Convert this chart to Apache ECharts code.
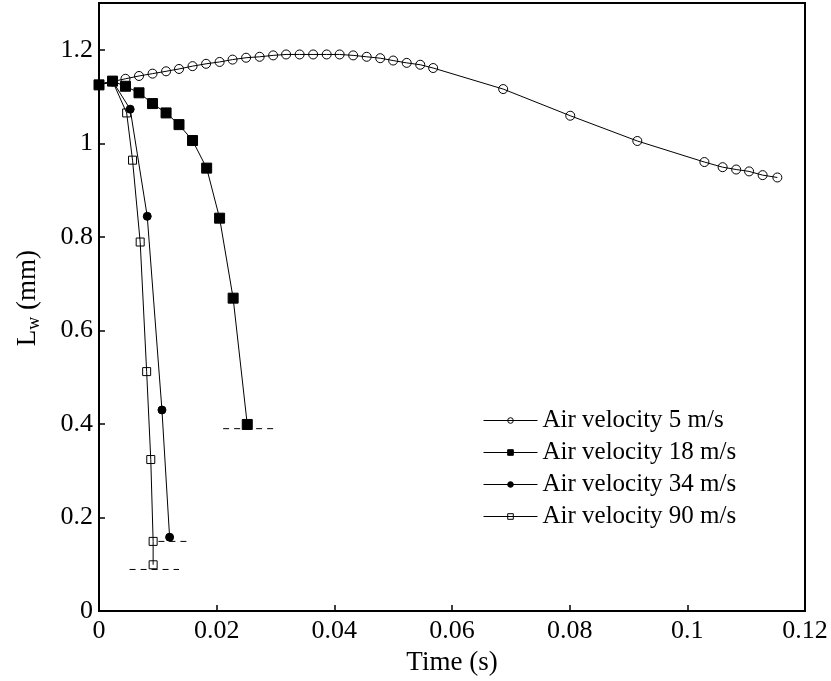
<!DOCTYPE html>
<html>
<head>
<meta charset="utf-8">
<script src="https://cdn.jsdelivr.net/npm/echarts@6/dist/echarts.min.js"></script>
<style>
  html, body { margin: 0; padding: 0; background: #fff; }
  #chart { width: 831px; height: 681px; }
</style>
</head>
<body>
<div id="chart"></div>
<script>
// Droplet length L_w over time for four air velocities
const seriesNames = ['Air velocity 5 m/s', 'Air velocity 18 m/s', 'Air velocity 34 m/s', 'Air velocity 90 m/s'];

const time5 = [0, 0.0023, 0.0045, 0.0068, 0.0091, 0.0114, 0.0136, 0.0159, 0.0182, 0.0205, 0.0227, 0.0250, 0.0273,
  0.0296, 0.0318, 0.0341, 0.0364, 0.0387, 0.0409, 0.0432, 0.0455, 0.0478, 0.0500, 0.0523, 0.0546, 0.0568,
  0.0687, 0.0801, 0.0915, 0.1029, 0.1060, 0.1083, 0.1105, 0.1128, 0.1153];
const lw5 = [1.125, 1.132, 1.138, 1.144, 1.149, 1.154, 1.159, 1.165, 1.170, 1.174, 1.179, 1.183, 1.185,
  1.188, 1.190, 1.190, 1.190, 1.190, 1.190, 1.188, 1.185, 1.182, 1.177, 1.172, 1.168, 1.161,
  1.116, 1.059, 1.005, 0.960, 0.949, 0.944, 0.940, 0.932, 0.927];

const time18 = [0, 0.0023, 0.0045, 0.0068, 0.0091, 0.0114, 0.0136, 0.0159, 0.0183, 0.0205, 0.0228, 0.0252];
const lw18 = [1.125, 1.133, 1.122, 1.108, 1.085, 1.065, 1.040, 1.006, 0.947, 0.840, 0.669, 0.399];

const time34 = [0, 0.0023, 0.0053, 0.0082, 0.0107, 0.0120];
const lw34 = [1.125, 1.133, 1.073, 0.844, 0.430, 0.158];

const time90 = [0, 0.0023, 0.0047, 0.0057, 0.0070, 0.0081, 0.0088, 0.0092, 0.0092];
const lw90 = [1.125, 1.133, 1.065, 0.964, 0.789, 0.512, 0.324, 0.149, 0.099];

// Dashed end-level guides: [startTime, endTime] and level
const guideTimes = [[0.0211, 0.0296], [0.0101, 0.0152], [0.0052, 0.0136]];
const guideLevels = [0.39, 0.149, 0.089];

const FONT = '"Liberation Serif", "Times New Roman", serif';

function pairs(xs, ys) {
  return xs.map((x, i) => [x, ys[i]]);
}

const HOLLOW = 'rgba(255,255,255,0)';
const markerStyles = [
  { symbol: 'circle', size: 9, fill: HOLLOW },
  { symbol: 'rect', size: 10, fill: '#000' },
  { symbol: 'circle', size: 8, fill: '#000' },
  { symbol: 'rect', size: 8, fill: HOLLOW }
];
const curves = [pairs(time5, lw5), pairs(time18, lw18), pairs(time34, lw34), pairs(time90, lw90)];

const series = curves.map((data, i) => ({
  name: seriesNames[i],
  type: 'line',
  data: data,
  symbol: markerStyles[i].symbol,
  symbolSize: markerStyles[i].size,
  showAllSymbol: true,
  lineStyle: { color: '#000', width: 1 },
  itemStyle: { color: markerStyles[i].fill, borderColor: '#000', borderWidth: 1 },
  emphasis: { disabled: true },
  z: 3 + i
}));

guideTimes.forEach((span, i) => {
  series.push({
    type: 'line',
    data: [[span[0], guideLevels[i]], [span[1], guideLevels[i]]],
    symbol: 'none',
    lineStyle: { color: '#000', width: 1, type: [6, 5] },
    emphasis: { disabled: true },
    z: 2
  });
});

const chart = echarts.init(document.getElementById('chart'));
chart.setOption({
  animation: false,
  backgroundColor: '#fff',
  grid: {
    left: 99, right: 26, top: 3, bottom: 68,
    show: true, borderColor: '#000', borderWidth: 2
  },
  legend: {
    data: seriesNames,
    orient: 'vertical',
    left: 478,
    top: 403,
    padding: 5,
    itemWidth: 54,
    itemHeight: 7,
    itemGap: 7,
    textStyle: { fontFamily: FONT, fontSize: 25, color: '#000', lineHeight: 25 },
    lineStyle: { color: '#000', width: 1 },
    itemStyle: { borderColor: '#000', borderWidth: 1 }
  },
  xAxis: {
    type: 'value',
    min: 0, max: 0.12, interval: 0.02,
    name: 'Time (s)',
    nameLocation: 'middle',
    nameGap: 33,
    nameTextStyle: { fontFamily: FONT, fontSize: 27, color: '#000' },
    axisLine: { lineStyle: { color: '#000', width: 2 } },
    axisTick: { inside: true, length: 6, lineStyle: { color: '#000', width: 1.5 } },
    axisLabel: { fontFamily: FONT, fontSize: 26, color: '#000', margin: 7 },
    splitLine: { show: false }
  },
  yAxis: {
    type: 'value',
    min: 0, max: 1.3, interval: 0.2,
    name: '{l|L}{w|w}{l| (mm)}',
    nameLocation: 'middle',
    nameRotate: 90,
    nameGap: 56,
    nameTextStyle: {
      fontFamily: FONT, color: '#000',
      padding: [0, 0, 0, 18],
      rich: {
        l: { fontFamily: FONT, fontSize: 27, color: '#000' },
        w: { fontFamily: FONT, fontSize: 18, color: '#000', verticalAlign: 'bottom', padding: [13, 0, 0, 0] }
      }
    },
    axisLine: { lineStyle: { color: '#000', width: 2 } },
    axisTick: { inside: true, length: 6, lineStyle: { color: '#000', width: 1.5 } },
    axisLabel: { fontFamily: FONT, fontSize: 26, color: '#000', margin: 6, showMaxLabel: false },
    splitLine: { show: false }
  },
  series: series
});
</script>
</body>
</html>
